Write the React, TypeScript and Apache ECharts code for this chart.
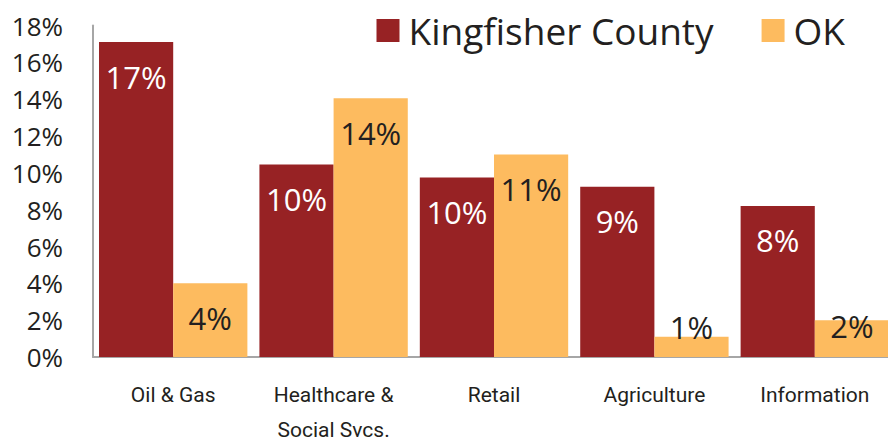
import React, { useEffect, useRef } from "react";
import * as echarts from "echarts";

const categories = ["Oil & Gas", "Healthcare &\nSocial Svcs.", "Retail", "Agriculture", "Information"];
const countyValues = [17.1, 10.45, 9.75, 9.25, 8.2];
const okValues = [4.0, 14.05, 11.0, 1.1, 2.0];
const yTicks = [0, 2, 4, 6, 8, 10, 12, 14, 16, 18];

const RED = "#972224";
const ORANGE = "#FDBB5F";
const TEXT = "#231F20";
const FONT = "'Open Sans', 'Noto Sans', sans-serif";
const NARROW = "Roboto, 'Liberation Sans Narrow', sans-serif";

export default function App() {
  const ref = useRef<HTMLDivElement>(null);
  useEffect(() => {
    if (!ref.current) return;
    const chart = echarts.init(ref.current, undefined, { renderer: "svg" });
    const fmt = (p: any) => Math.round(p.value) + "%";
    chart.setOption({
      animation: false,
      grid: {
        left: 93,
        right: -7,
        top: 25.5,
        bottom: 85,
        containLabel: false,
        outerBoundsMode: "none",
      },
      legend: {
        right: 38,
        top: 7,
        itemWidth: 23,
        itemHeight: 23,
        itemGap: 48,
        icon: "rect",
        textStyle: { fontFamily: FONT, fontSize: 37, color: TEXT, padding: [0, 0, 0, 4] },
        data: ["Kingfisher County", "OK"],
      },
      xAxis: {
        type: "category",
        data: categories,
        axisLine: { lineStyle: { color: "#A6A6A6", width: 2 } },
        axisTick: { show: false },
        axisLabel: {
          fontFamily: NARROW,
          fontSize: 21,
          color: TEXT,
          margin: 20,
          lineHeight: 35,
          interval: 0,
        },
      },
      yAxis: {
        type: "value",
        min: yTicks[0],
        max: yTicks[yTicks.length - 1],
        interval: 2,
        splitLine: { show: false },
        axisLine: { show: true, lineStyle: { color: "#A6A6A6", width: 2 } },
        axisTick: { show: false },
        axisLabel: {
          formatter: (v: number) => v + "%",
          fontFamily: FONT,
          fontSize: 26,
          color: TEXT,
          margin: 30,
        },
      },
      series: [
        {
          name: "Kingfisher County",
          type: "bar",
          data: countyValues,
          itemStyle: { color: RED },
          barGap: "0%",
          barCategoryGap: "7.5%",
          label: {
            show: true,
            position: "insideTop",
            distance: 19,
            formatter: fmt,
            fontFamily: FONT,
            fontSize: 31,
            color: "#FFFFFF",
          },
        },
        {
          name: "OK",
          type: "bar",
          data: okValues.map((v) => {
            if (v < 1.5) {
              return { value: v, label: { position: "top", distance: 0, offset: [0, 6] } };
            }
            if (v < 3) {
              return { value: v, label: { position: "insideTop", distance: 0, offset: [0, -10] } };
            }
            return v;
          }),
          itemStyle: { color: ORANGE },
          label: {
            show: true,
            position: "insideTop",
            distance: 19,
            formatter: fmt,
            fontFamily: FONT,
            fontSize: 31,
            color: TEXT,
          },
        },
      ],
    });
    return () => chart.dispose();
  }, []);
  return (
    <div
      ref={ref}
      style={{ position: "absolute", left: 0, top: 0, width: 888, height: 442, overflow: "hidden" }}
    />
  );
}
